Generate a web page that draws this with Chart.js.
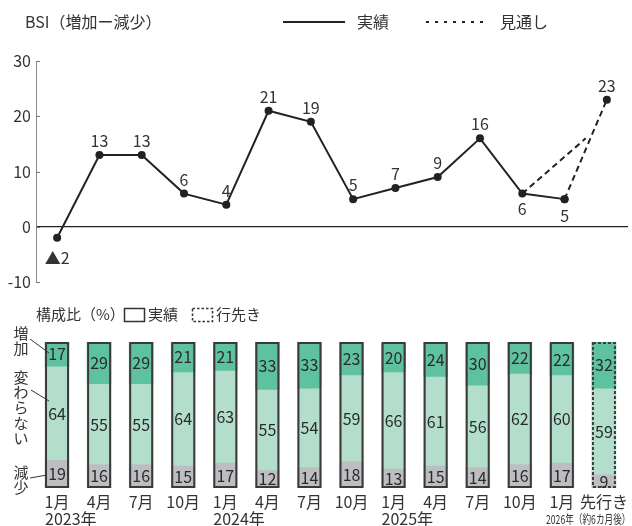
<!DOCTYPE html>
<html>
<head>
<meta charset="utf-8">
<script src="https://cdn.jsdelivr.net/npm/chart.js@4"></script>
<style>
  body { margin: 0; background: #fff; }
  #wrap { position: relative; width: 632px; height: 526px; }
  .box { position: absolute; left: 0; width: 632px; }
</style>
</head>
<body>
<div id="wrap">
  <div class="box" style="top:0;height:300px"><canvas id="bsi"></canvas></div>
  <div class="box" style="top:300px;height:226px"><canvas id="mix"></canvas></div>
</div>
<script>
const FONT = "'Noto Sans CJK JP', 'Noto Sans', sans-serif";
const INK = '#333';

// 調査時期
const periods = ['1月', '4月', '7月', '10月', '1月', '4月', '7月', '10月', '1月', '4月', '7月', '10月', '1月', '先行き'];
const yearLabels = ['2023年', '2024年', '2025年'];
const yearStart = [0, 4, 8];

// BSI（増加－減少）
const bsiActual = [-2, 13, 13, 6, 4, 21, 19, 5, 7, 9, 16, 6, 5];
const bsiOutlook = [5, 23];        // 1月 → 先行き
const bsiOutlookPrev = [6, 16];    // 前回調査（10月）からの見通し
const bsiTicks = [30, 20, 10, 0, -10];

// 構成比（%）
const increase  = [17, 29, 29, 21, 21, 33, 33, 23, 20, 24, 30, 22, 22, 32];
const unchanged = [64, 55, 55, 64, 63, 55, 54, 59, 66, 61, 56, 62, 60, 59];
const decrease  = [19, 16, 16, 15, 17, 12, 14, 18, 13, 15, 14, 16, 17, 9];

function font(size) { return size + 'px ' + FONT; }

// ---------- 上段：BSI 折れ線 ----------
const labelBelow = { 0: 20, 11: 15, 12: 17 };

const bsiDecor = {
  id: 'bsiDecor',
  afterDraw(chart) {
    const ctx = chart.ctx;
    const y = chart.scales.y;
    const area = chart.chartArea;
    ctx.save();

    // 目盛りの刻み（内向き）
    ctx.strokeStyle = '#777';
    ctx.lineWidth = 1;
    bsiTicks.forEach(v => {
      const py = Math.round(y.getPixelForValue(v)) + 0.5;
      ctx.beginPath();
      ctx.moveTo(area.left, py);
      ctx.lineTo(area.left + 4, py);
      ctx.stroke();
    });

    // 値ラベル
    ctx.fillStyle = INK;
    ctx.font = font(16);
    ctx.textAlign = 'center';
    ctx.textBaseline = 'middle';
    const pts = chart.getDatasetMeta(0).data;
    pts.forEach((p, i) => {
      const v = bsiActual[i];
      const txt = v < 0 ? '▲' + Math.abs(v) : String(v);
      const dy = labelBelow[i] !== undefined ? labelBelow[i] : -14;
      ctx.fillText(txt, p.x, p.y + dy);
    });
    const last = chart.getDatasetMeta(1).data[1];
    ctx.fillText(String(bsiOutlook[1]), last.x, last.y - 14);

    // タイトルと凡例
    ctx.font = font(16);
    ctx.textAlign = 'left';
    ctx.fillText('BSI（増加ー減少）', 25, 22);
    ctx.strokeStyle = '#222';
    ctx.lineWidth = 2;
    ctx.beginPath();
    ctx.moveTo(283, 22); ctx.lineTo(345, 22);
    ctx.stroke();
    ctx.fillText('実績', 357, 22);
    ctx.setLineDash([3, 6]);
    ctx.beginPath();
    ctx.moveTo(426, 22); ctx.lineTo(489, 22);
    ctx.stroke();
    ctx.setLineDash([]);
    ctx.fillText('見通し', 500, 22);
    ctx.restore();
  }
};

new Chart(document.getElementById('bsi'), {
  type: 'line',
  data: {
    datasets: [
      {
        data: bsiActual.map((v, i) => ({ x: i, y: v })),
        borderColor: '#222', borderWidth: 2,
        pointRadius: 4, pointBackgroundColor: '#222', pointBorderWidth: 0
      },
      {
        data: bsiOutlook.map((v, i) => ({ x: 12 + i, y: v })),
        borderColor: '#222', borderWidth: 2, borderDash: [6, 4],
        pointRadius: 4, pointBackgroundColor: '#222', pointBorderWidth: 0
      },
      {
        data: bsiOutlookPrev.map((v, i) => ({ x: 11 + i * 1.5, y: v })),
        borderColor: '#222', borderWidth: 2, borderDash: [6, 4],
        pointRadius: 0
      }
    ]
  },
  options: {
    responsive: true,
    maintainAspectRatio: false,
    animation: false,
    layout: { padding: { top: 61, bottom: 18, left: 0, right: 2 } },
    plugins: { legend: { display: false }, tooltip: { enabled: false } },
    scales: {
      x: { type: 'linear', min: -0.5, max: 13.5, display: false },
      y: {
        min: -10, max: 30,
        afterBuildTicks(s) { s.ticks = bsiTicks.map(v => ({ value: v })); },
        ticks: { font: { family: FONT, size: 16 }, color: INK, padding: 5 },
        grid: {
          drawTicks: false,
          color: c => (c.tick && c.tick.value === 0 ? '#222' : 'rgba(0,0,0,0)'),
          lineWidth: 1.2
        },
        border: { color: '#888', width: 1 },
        afterFit(s) { s.width = 36; }
      }
    }
  },
  plugins: [bsiDecor]
});

// ---------- 下段：構成比 積み上げ棒 ----------
const mixDecor = {
  id: 'mixDecor',
  afterDatasetsDraw(chart) {
    const ctx = chart.ctx;
    const ys = chart.scales.y;
    const low = chart.getDatasetMeta(0).data;
    const mid = chart.getDatasetMeta(1).data;
    const top = chart.getDatasetMeta(2).data;
    const y100 = ys.getPixelForValue(100), y0 = ys.getPixelForValue(0);
    ctx.save();

    // 棒の外枠（0〜100%、先行きは破線）
    ctx.strokeStyle = '#3a3a3a';
    ctx.lineWidth = 2;
    top.forEach((b, i) => {
      const x0 = b.x - b.width / 2;
      ctx.setLineDash(i === periods.length - 1 ? [3, 2] : []);
      ctx.strokeRect(x0 + 1, y100 + 1, b.width - 2, y0 - y100 - 2);
    });
    ctx.setLineDash([]);

    // 値ラベル
    ctx.fillStyle = '#2a2a2a';
    ctx.font = font(16);
    ctx.textAlign = 'center';
    ctx.textBaseline = 'middle';
    [[low, decrease], [mid, unchanged], [top, increase]].forEach(([els, vals]) => {
      els.forEach((b, i) => ctx.fillText(String(vals[i]), b.x, (Math.max(b.y, y100) + b.base) / 2));
    });

    // 年ラベル
    const x = chart.scales.x;
    ctx.textAlign = 'left';
    ctx.fillStyle = INK;
    yearLabels.forEach((t, k) => ctx.fillText(t, x.getPixelForValue(yearStart[k]) - 12, 219));
    ctx.save();
    ctx.font = font(12);
    ctx.translate(546, 219);
    ctx.scale(0.72, 1);
    ctx.fillText('2026年（約6カ月後）', 0, 0);
    ctx.restore();

    // 凡例
    ctx.font = font(15);
    ctx.fillText('構成比（%）', 36, 14);
    ctx.lineWidth = 1.5;
    ctx.strokeStyle = '#333';
    ctx.strokeRect(124.5, 8.5, 20, 13);
    ctx.fillText('実績', 148, 14);
    ctx.setLineDash([2.5, 2]);
    ctx.strokeRect(192.5, 8.5, 20, 13);
    ctx.setLineDash([]);
    ctx.fillText('行先き', 216, 14);

    // 左側の区分名と引出線
    ctx.textAlign = 'center';
    const vert = (txt, cx, yStart, step) => [...txt].forEach((c, k) => ctx.fillText(c, cx, yStart + k * step));
    vert('増加', 21, 33, 15);
    vert('変わらない', 21, 77, 15.3);
    vert('減少', 21, 172, 15);
    ctx.strokeStyle = '#333';
    ctx.lineWidth = 1;
    ctx.beginPath();
    ctx.moveTo(30, 39); ctx.lineTo(49, 53);
    ctx.moveTo(31, 90); ctx.lineTo(49, 101);
    ctx.moveTo(30, 178); ctx.lineTo(47, 175);
    ctx.stroke();
    ctx.restore();
  }
};

new Chart(document.getElementById('mix'), {
  type: 'bar',
  data: {
    labels: periods,
    datasets: [
      { label: '減少', data: decrease, backgroundColor: '#bdbec2' },
      { label: '変わらない', data: unchanged, backgroundColor: '#b2decb' },
      { label: '増加', data: increase, backgroundColor: '#5ec2a0' }
    ]
  },
  options: {
    responsive: true,
    maintainAspectRatio: false,
    animation: false,
    layout: { padding: { top: 42, bottom: 0, left: 36, right: 2 } },
    datasets: { bar: { barThickness: 24, borderWidth: 0, clip: 0 } },
    plugins: { legend: { display: false }, tooltip: { enabled: false } },
    scales: {
      x: {
        stacked: true,
        grid: { display: false, drawTicks: false },
        border: { display: false },
        ticks: { font: { family: FONT, size: 16 }, color: INK, padding: 4, maxRotation: 0, minRotation: 0, autoSkip: false },
        afterFit(s) { s.height = 38; }
      },
      y: { stacked: true, min: 0, max: 100, display: false }
    }
  },
  plugins: [mixDecor]
});
</script>
</body>
</html>
